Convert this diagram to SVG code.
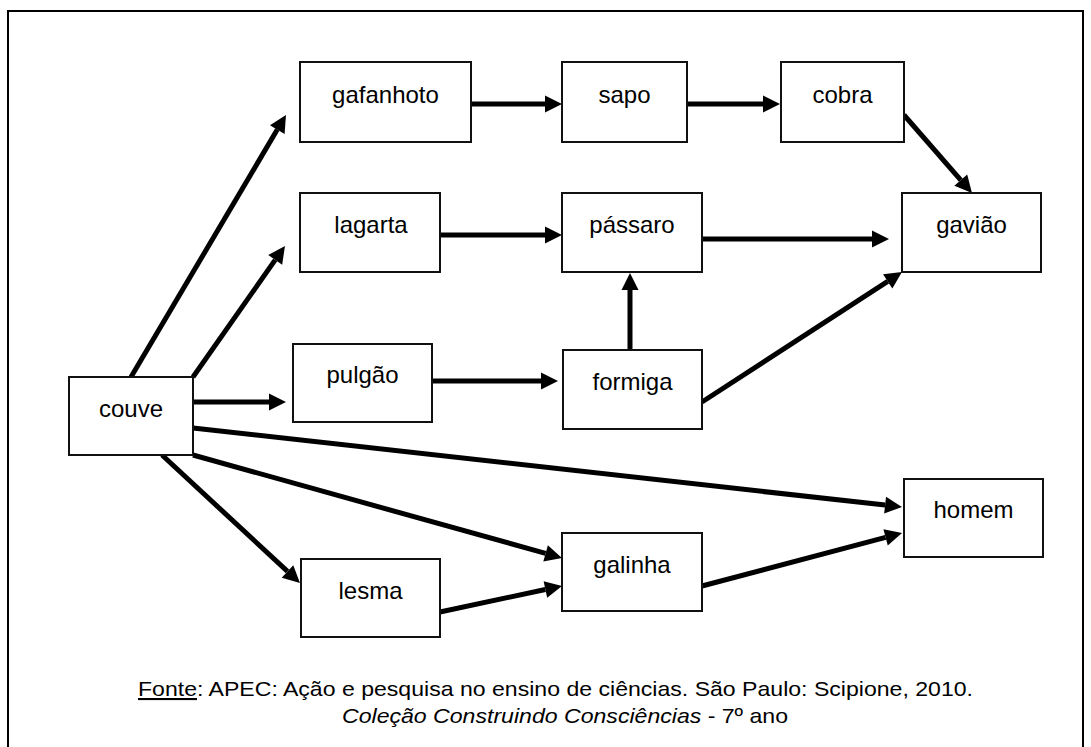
<svg xmlns="http://www.w3.org/2000/svg" width="1091" height="747" viewBox="0 0 1091 747">
<style>
.box{fill:#fff;stroke:#111;stroke-width:2}
.lbl{font-family:"Liberation Sans",Arial,sans-serif;font-size:24px;fill:#000;text-anchor:middle}
.cn{stroke:#000;stroke-width:5;fill:none;marker-end:url(#ah)}
.cap{font-family:"Liberation Sans",Arial,sans-serif;font-size:21px;fill:#000}
</style>
<defs>
<marker id="ah" markerUnits="userSpaceOnUse" markerWidth="18" markerHeight="18" refX="0" refY="8.5" orient="auto" overflow="visible">
<path d="M0,0 L17,8.5 L0,17 z" fill="#000"/>
</marker>
</defs>
<rect x="0" y="0" width="1091" height="747" fill="#fff"/>
<rect x="8" y="11" width="1075" height="760" fill="none" stroke="#000" stroke-width="2"/>
<g id="connectors">
<line class="cn" x1="131" y1="377" x2="277.3" y2="129.6"/>
<line class="cn" x1="193" y1="377" x2="275.2" y2="259.9"/>
<line class="cn" x1="193" y1="402" x2="269" y2="402"/>
<line class="cn" x1="193" y1="428" x2="885.1" y2="505.1"/>
<line class="cn" x1="193" y1="455" x2="545.6" y2="553.4"/>
<line class="cn" x1="162" y1="455" x2="287.5" y2="571.4"/>
<line class="cn" x1="440" y1="612" x2="545.4" y2="589.5"/>
<line class="cn" x1="702" y1="586" x2="885.6" y2="537.4"/>
<line class="cn" x1="471" y1="104" x2="545" y2="104"/>
<line class="cn" x1="687" y1="104" x2="763" y2="104"/>
<line class="cn" x1="904" y1="115" x2="960.8" y2="180.2"/>
<line class="cn" x1="440" y1="235" x2="545" y2="235"/>
<line class="cn" x1="702" y1="239" x2="872" y2="239"/>
<line class="cn" x1="630" y1="350" x2="630" y2="290"/>
<line class="cn" x1="432" y1="381" x2="541" y2="381"/>
<line class="cn" x1="702" y1="402" x2="887.7" y2="281.3"/>
</g>
<g id="gafanhoto"><rect class="box" x="300" y="62" width="171" height="80"/><text class="lbl" x="385.5" y="103">gafanhoto</text></g>
<g id="sapo"><rect class="box" x="562" y="62" width="125" height="80"/><text class="lbl" x="624.5" y="103">sapo</text></g>
<g id="cobra"><rect class="box" x="781" y="62" width="123" height="80"/><text class="lbl" x="842.5" y="103">cobra</text></g>
<g id="lagarta"><rect class="box" x="300" y="193" width="140" height="79"/><text class="lbl" x="371" y="233">lagarta</text></g>
<g id="passaro"><rect class="box" x="562" y="193" width="140" height="79"/><text class="lbl" x="632" y="233">pássaro</text></g>
<g id="gaviao"><rect class="box" x="902" y="193" width="139" height="79"/><text class="lbl" x="971.5" y="233">gavião</text></g>
<g id="pulgao"><rect class="box" x="293" y="344" width="139" height="78"/><text class="lbl" x="362.5" y="383">pulgão</text></g>
<g id="formiga"><rect class="box" x="563" y="350" width="139" height="79"/><text class="lbl" x="632.5" y="390">formiga</text></g>
<g id="couve"><rect class="box" x="69" y="377" width="124" height="78"/><text class="lbl" x="131" y="417">couve</text></g>
<g id="homem"><rect class="box" x="904" y="479" width="139" height="78"/><text class="lbl" x="973.5" y="518">homem</text></g>
<g id="lesma"><rect class="box" x="301" y="559" width="139" height="78"/><text class="lbl" x="370.5" y="599">lesma</text></g>
<g id="galinha"><rect class="box" x="562" y="533" width="140" height="78"/><text class="lbl" x="632" y="573">galinha</text></g>
<g id="caption">
<text class="cap" x="138" y="696" textLength="835" lengthAdjust="spacingAndGlyphs"><tspan text-decoration="underline">Fonte</tspan>: APEC: Ação e pesquisa no ensino de ciências. São Paulo: Scipione, 2010.</text>
<text class="cap" x="342" y="723" textLength="446" lengthAdjust="spacingAndGlyphs"><tspan font-style="italic">Coleção Construindo Consciências</tspan> - 7º ano</text>
</g>
</svg>
